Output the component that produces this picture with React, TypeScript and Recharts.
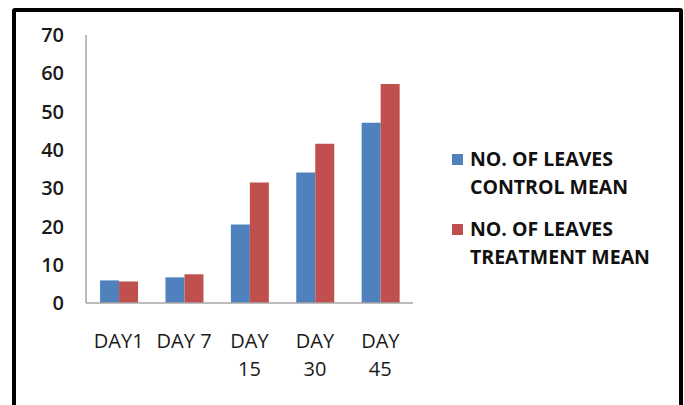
import { Bar, BarChart, XAxis, YAxis } from "recharts";

const days = ["DAY1", "DAY 7", "DAY 15", "DAY 30", "DAY 45"];
const dayLabelLines = [["DAY1"], ["DAY 7"], ["DAY", "15"], ["DAY", "30"], ["DAY", "45"]];
const controlMean = [5.9, 6.7, 20.5, 34.1, 47.1];
const treatmentMean = [5.6, 7.5, 31.5, 41.6, 57.2];
const yTicks = [0, 10, 20, 30, 40, 50, 60, 70];

const seriesNames = ["NO. OF LEAVES CONTROL MEAN", "NO. OF LEAVES TREATMENT MEAN"];
const legendLines = [
  ["NO. OF LEAVES", "CONTROL MEAN"],
  ["NO. OF LEAVES", "TREATMENT MEAN"],
];

const BLUE = "#4f81bd";
const RED = "#c0504d";
const FONT = "'Open Sans', 'DejaVu Sans', sans-serif";

const data = days.map((day, i) => ({
  day,
  control: controlMean[i],
  treatment: treatmentMean[i],
}));

function DayTick(props: any) {
  const { x, y, payload } = props;
  const lines = dayLabelLines[days.indexOf(payload.value)] ?? [payload.value];
  return (
    <text x={x} y={y} textAnchor="middle" fontFamily={FONT} fontSize={20} fill="#1a1a1a">
      {lines.map((line, i) => (
        <tspan key={i} x={x} dy={i === 0 ? 37 : 28}>
          {line}
        </tspan>
      ))}
    </text>
  );
}

// legend sits beside the plot, drawn as plain html so it doesn't shrink the chart area
function LeavesLegend() {
  const colors = [BLUE, RED];
  return (
    <div
      style={{
        position: "absolute",
        left: 452,
        top: 145,
        fontFamily: FONT,
        fontSize: 19.5,
        fontWeight: 700,
        color: "#111",
      }}
    >
      {legendLines.map((lines, i) => (
        <div key={i} style={{ display: "flex", alignItems: "flex-start", marginBottom: i === 0 ? 14 : 0 }}>
          <span
            style={{
              width: 11,
              height: 11,
              background: colors[i],
              marginTop: 9,
              marginRight: 7,
              flexShrink: 0,
            }}
          />
          <div style={{ lineHeight: "28px" }} title={seriesNames[i]}>
            {lines.map((line) => (
              <div key={line}>{line}</div>
            ))}
          </div>
        </div>
      ))}
    </div>
  );
}

export default function App() {
  return (
    <div
      style={{
        position: "fixed",
        left: 0,
        top: 0,
        width: 684,
        height: 405,
        overflow: "hidden",
        background: "#fff",
      }}
    >
      <div
        style={{
          position: "absolute",
          left: 12,
          top: 8,
          width: 663,
          height: 420,
          border: "4px solid #000",
          borderRadius: 3,
          boxSizing: "content-box",
        }}
      />
      <BarChart
        width={684}
        height={405}
        data={data}
        margin={{ top: 35, right: 271, bottom: 52, left: 0 }}
        barGap={0}
        barCategoryGap="21.5%"
        style={{ position: "absolute", left: 0, top: 0 }}
      >
        <XAxis
          dataKey="day"
          axisLine={{ stroke: "#a6a6a6", strokeWidth: 1.5 }}
          tickLine={false}
          tick={<DayTick />}
          interval={0}
          height={50}
        />
        <YAxis
          domain={[0, 70]}
          ticks={yTicks}
          interval={0}
          width={86}
          axisLine={{ stroke: "#a6a6a6", strokeWidth: 1.5 }}
          tickLine={false}
          tickMargin={16}
          tick={{ fontFamily: FONT, fontSize: 20, fontWeight: 600, fill: "#1a1a1a" }}
        />
        <Bar dataKey="control" name={seriesNames[0]} fill={BLUE} isAnimationActive={false} />
        <Bar dataKey="treatment" name={seriesNames[1]} fill={RED} isAnimationActive={false} />
      </BarChart>
      <LeavesLegend />
    </div>
  );
}
